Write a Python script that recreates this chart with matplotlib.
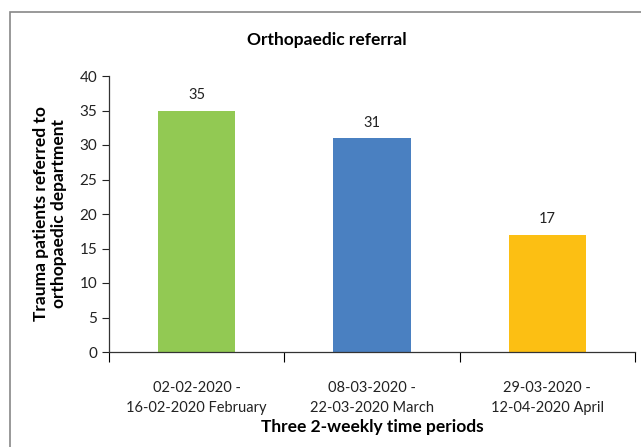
import matplotlib.pyplot as plt
from matplotlib.patches import Rectangle
import numpy as np

periods = [
    "02-02-2020 -\n16-02-2020 February",
    "08-03-2020 -\n22-03-2020 March",
    "29-03-2020 -\n12-04-2020 April",
]
referrals = [35, 31, 17]
bar_colors = ["#92C953", "#4A80C1", "#FCBF13"]

plt.rcParams["font.family"] = ["Lato", "DejaVu Sans"]

fig = plt.figure(figsize=(6.41, 4.47), dpi=100)
ax = fig.add_axes([109 / 641, 95 / 447, 526 / 641, 276 / 447])

x = np.arange(len(periods))
ax.bar(x, referrals, width=0.44, color=bar_colors)
for xi, v in zip(x, referrals):
    ax.annotate(str(v), (xi, v), xytext=(0, 6), textcoords="offset points",
                ha="center", va="bottom", fontsize=10.5, color="#222222")

ax.set_xlim(-0.5, len(periods) - 0.5)
ax.set_ylim(0, 40)
ax.set_yticks(range(0, 41, 5))
ax.tick_params(axis="y", labelsize=11, length=5, width=0.8, colors="#222222")

# category labels between boundary ticks (Excel style)
ax.set_xticks(np.arange(-0.5, len(periods)), minor=False)
ax.set_xticklabels([])
ax.set_xticks(x, minor=True)
ax.set_xticklabels(periods, minor=True, fontsize=10.5, color="#222222", linespacing=1.55)
ax.tick_params(axis="x", which="major", length=7, width=0.8, direction="out")
ax.tick_params(axis="x", which="minor", length=0, pad=21)

for side in ["top", "right"]:
    ax.spines[side].set_visible(False)
for side in ["left", "bottom"]:
    ax.spines[side].set_color("#333333")
    ax.spines[side].set_linewidth(0.9)

ax.set_ylabel("Trauma patients referred to\northopaedic department",
              fontsize=12.5, fontweight="bold", labelpad=9, linespacing=1.15)
ax.set_xlabel("Three 2-weekly time periods", fontsize=12.5, fontweight="bold", labelpad=3)
fig.text(327 / 641, 1 - 40 / 447, "Orthopaedic referral", ha="center", va="center",
         fontsize=12.5, fontweight="bold")

# outer chart border
fig.patches.append(Rectangle((10 / 641, -0.1), 1.2, 1 - 12 / 447 + 0.1,
                             transform=fig.transFigure, fill=False,
                             edgecolor="#888888", linewidth=1.2))

fig.savefig("out.png", dpi=100)
